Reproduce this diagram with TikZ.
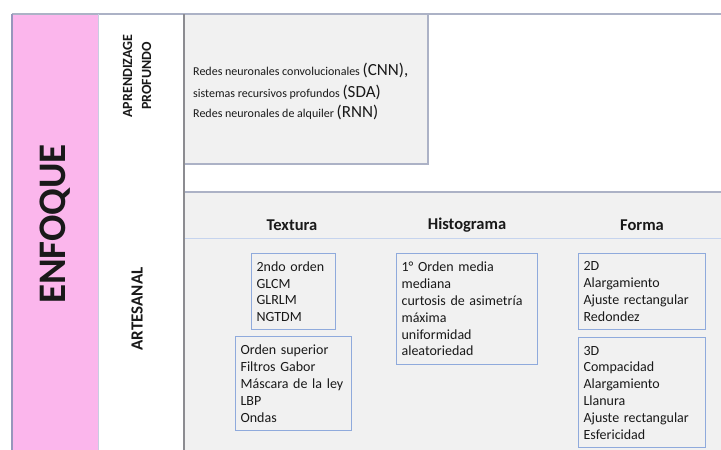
\documentclass[tikz,border=0pt]{standalone}
\usepackage{fontspec}
\setmainfont{Carlito}
\definecolor{pinkc}{RGB}{251,182,236}
\definecolor{grayc}{RGB}{241,241,241}
\definecolor{framec}{RGB}{172,178,198}
\definecolor{leftc}{RGB}{150,150,188}
\definecolor{thinc}{RGB}{200,205,225}
\definecolor{darkc}{RGB}{140,140,145}
\definecolor{boxc}{RGB}{143,170,220}
\definecolor{lightline}{RGB}{198,212,238}
\definecolor{txtc}{RGB}{25,25,25}
\begin{document}
\begin{tikzpicture}[x=1pt,y=-1pt,
  hdr/.style={font=\fontsize{16.5}{19}\selectfont\bfseries, text=txtc},
  listbox/.style={draw=boxc, line width=1.2pt, fill=grayc, align=left, inner xsep=5pt, inner ysep=2pt,
    font=\fontsize{14}{16.8}\selectfont, text=txtc, anchor=north west},
  sidelabel/.style={rotate=90, font=\bfseries, text=txtc, align=center},
  topline/.style={anchor=west, inner sep=0pt, text=txtc}]
\useasboundingbox (0,0) rectangle (721,450);
\fill[white] (0,0) rectangle (721,450);
% backgrounds
\fill[pinkc] (12,14) rectangle (98,451);
\fill[grayc] (184,14) rectangle (428,164);
\fill[grayc] (184,192) rectangle (721,451);
% rules
\draw[framec, line width=1.8pt] (428,14) -- (428,164) -- (184,164);
\draw[framec, line width=2.2pt] (184,192) -- (721,192);
\draw[lightline, line width=1pt] (184,238) -- (721,238);
\draw[framec, line width=2.2pt] (12,14) -- (721,14);
\draw[leftc, line width=2.5pt] (12,14) -- (12,451);
\draw[thinc, line width=0.8pt] (98,14) -- (98,451);
\draw[darkc, line width=2.4pt] (184,14) -- (184,451);
% side labels
\node[sidelabel, font=\fontsize{39}{42}\selectfont\bfseries] (enfoque) at (55,224) {ENFOQUE};
\node[sidelabel, font=\fontsize{14}{19}\selectfont\bfseries] (aprend) at (137,76) {APRENDIZAGE\\PROFUNDO};
\node[sidelabel, font=\fontsize{17}{19}\selectfont\bfseries] (artes) at (137,309) {ARTESANAL};
% deep learning text
\node[topline] (dl1) at (193,70) {\fontsize{12}{14}\selectfont Redes neuronales convolucionales \fontsize{17}{19}\selectfont(CNN),};
\node[topline] (dl2) at (193,92) {\fontsize{12}{14}\selectfont sistemas recursivos profundos \fontsize{17}{19}\selectfont(SDA)};
\node[topline] (dl3) at (193,112) {\fontsize{12}{14}\selectfont Redes neuronales de alquiler \fontsize{17}{19}\selectfont(RNN)};
% headers
\node[hdr] (textura) at (292,225) {Textura};
\node[hdr] (histo) at (467,225) {Histograma};
\node[hdr] (forma) at (642,225) {Forma};
% boxes
\node[listbox, text width=74pt, minimum height=76pt] (b2nd) at (251,253) {2ndo orden\\GLCM\\GLRLM\\NGTDM};
\node[listbox, text width=106pt, minimum height=94pt] (bsup) at (235,336) {Orden superior\\Filtros Gabor\\Máscara de la ley\\LBP\\Ondas};
\node[listbox, text width=131pt, minimum height=111pt] (bhist) at (396,253) {1° Orden media\\mediana\\curtosis de asimetría\\máxima\\uniformidad\\aleatoriedad};
\node[listbox, text width=117pt, minimum height=76pt] (b2d) at (578,253) {2D\\Alargamiento\\Ajuste rectangular\\Redondez};
\node[listbox, text width=117pt, minimum height=110pt] (b3d) at (578,337) {3D\\Compacidad\\Alargamiento\\Llanura\\Ajuste rectangular\\Esfericidad};
\end{tikzpicture}
\end{document}
